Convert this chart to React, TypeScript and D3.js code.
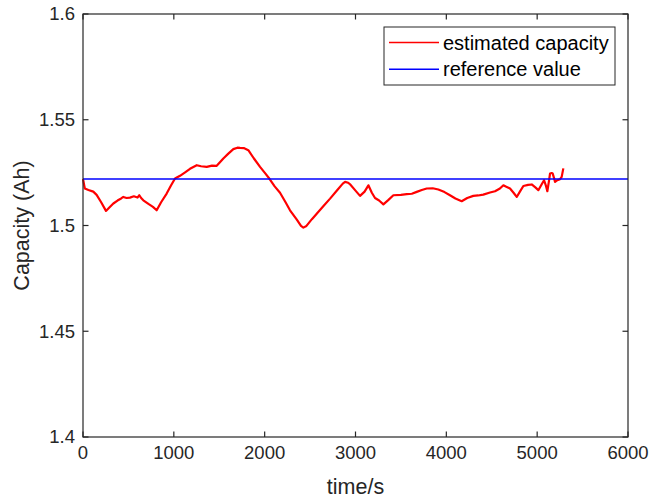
import React from "react";
import { scaleLinear, line } from "d3";

const W = 652;
const H = 500;
const M = { top: 14, right: 24, bottom: 63, left: 83 };

const timeS = [
  0, 20, 60, 113, 150, 200, 253, 290, 334, 380, 420, 444, 480, 517, 560, 600, 620, 640, 664, 720, 770,
  811, 860, 921, 970, 1013, 1068, 1120, 1178, 1252, 1300, 1362, 1420, 1472, 1510, 1545, 1600, 1655,
  1700, 1729, 1770, 1820, 1880, 1949, 2000, 2051, 2110, 2169, 2230, 2279, 2350, 2400, 2426, 2460,
  2520, 2573, 2650, 2720, 2800, 2860, 2885, 2920, 2940, 3000, 3050, 3100, 3142, 3180, 3215, 3260,
  3307, 3360, 3417, 3500, 3564, 3620, 3674, 3730, 3784, 3850, 3912, 3980, 4040, 4100, 4169, 4230,
  4297, 4350, 4407, 4481, 4536, 4590, 4628, 4660, 4701, 4740, 4775, 4810, 4848, 4900, 4940, 4980,
  5013, 5050, 5076, 5095, 5112, 5128, 5142, 5160, 5171, 5185, 5197, 5222, 5252, 5270, 5288,
];

const estimatedCapacity = [
  1.522, 1.5175, 1.5168, 1.516, 1.5145, 1.511, 1.5069, 1.5085, 1.5104, 1.5118, 1.5128, 1.5135, 1.513,
  1.5132, 1.5138, 1.5132, 1.5143, 1.513, 1.5119, 1.5102, 1.5088, 1.5072, 1.511, 1.5151, 1.519, 1.5222,
  1.5235, 1.525, 1.5268, 1.5285, 1.528, 1.5277, 1.5283, 1.5282, 1.53, 1.5317, 1.534, 1.5361, 1.5368,
  1.5367, 1.5366, 1.5356, 1.5318, 1.5277, 1.525, 1.5222, 1.5185, 1.5155, 1.511, 1.5072, 1.503, 1.4998,
  1.499, 1.4998, 1.503, 1.5056, 1.5093, 1.5127, 1.5168, 1.5198, 1.5206, 1.5202, 1.5195, 1.5165, 1.514,
  1.516, 1.519, 1.5155, 1.513, 1.5118, 1.51, 1.512, 1.5143, 1.5145, 1.5148, 1.515, 1.5159, 1.5168,
  1.5175, 1.5176, 1.517, 1.5158, 1.5143, 1.5128, 1.5115, 1.513, 1.514, 1.5142, 1.5146, 1.5156, 1.5162,
  1.5175, 1.519, 1.5183, 1.5175, 1.5155, 1.5135, 1.516, 1.5187, 1.5192, 1.5194, 1.518, 1.5167, 1.5195,
  1.5214, 1.519, 1.5162, 1.5205, 1.5246, 1.5248, 1.5246, 1.5225, 1.5206, 1.5214, 1.5219, 1.523, 1.527,
];

const referenceValue = 1.522;

const xTicks = [0, 1000, 2000, 3000, 4000, 5000, 6000];
const yTicks = [1.4, 1.45, 1.5, 1.55, 1.6];
const yTickLabels = ["1.4", "1.45", "1.5", "1.55", "1.6"];
const legendLabels = ["estimated capacity", "reference value"];
const legendColors = ["#ff0000", "#0000ff"];

const AXIS = "#262626";
const FONT = "'Liberation Sans', Arial, Helvetica, sans-serif";

export default function App() {
  const x = scaleLinear().domain([0, 6000]).range([M.left, W - M.right]);
  const y = scaleLinear().domain([1.4, 1.6]).range([H - M.bottom, M.top]);
  const x0 = x(0);
  const x1 = x(6000);
  const y0 = y(1.4);
  const y1 = y(1.6);
  const tick = 5.5;

  const pts = timeS.map((t, i) => [t, estimatedCapacity[i]] as [number, number]);
  const capLine = line<[number, number]>()
    .x((d) => x(d[0]))
    .y((d) => y(d[1]));

  const lg = { x: 384, y: 27, w: 231, h: 58 };

  return (
    <svg
      width={W}
      height={H}
      style={{ position: "absolute", left: 0, top: 0, background: "#fff" }}
      fontFamily={FONT}
    >
      <rect x={0} y={0} width={W} height={H} fill="#fff" />

      {/* data */}
      <path d={capLine(pts) || ""} fill="none" stroke="#ff0000" strokeWidth={2.2} strokeLinejoin="round" />
      <line x1={x0} x2={x1} y1={y(referenceValue)} y2={y(referenceValue)} stroke="#0000ff" strokeWidth={1.5} />

      {/* box */}
      <rect x={x0} y={y1} width={x1 - x0} height={y0 - y1} fill="none" stroke={AXIS} strokeWidth={1.2} />

      {xTicks.map((t) => (
        <g key={"x" + t}>
          <line x1={x(t)} x2={x(t)} y1={y0} y2={y0 - tick} stroke={AXIS} strokeWidth={1.2} />
          <line x1={x(t)} x2={x(t)} y1={y1} y2={y1 + tick} stroke={AXIS} strokeWidth={1.2} />
          <text x={x(t)} y={y0 + 22} textAnchor="middle" fontSize={18.5} fill={AXIS}>
            {t}
          </text>
        </g>
      ))}

      {yTicks.map((v, i) => (
        <g key={"y" + v}>
          <line x1={x0} x2={x0 + tick} y1={y(v)} y2={y(v)} stroke={AXIS} strokeWidth={1.2} />
          <line x1={x1} x2={x1 - tick} y1={y(v)} y2={y(v)} stroke={AXIS} strokeWidth={1.2} />
          <text x={x0 - 8} y={y(v)} dy="0.35em" textAnchor="end" fontSize={18.5} fill={AXIS}>
            {yTickLabels[i]}
          </text>
        </g>
      ))}

      <text x={(x0 + x1) / 2} y={H - 6} textAnchor="middle" fontSize={21.5} fill={AXIS}>
        time/s
      </text>
      <text
        transform={`translate(${29},${(y0 + y1) / 2}) rotate(-90)`}
        textAnchor="middle"
        fontSize={21.5}
        fill={AXIS}
      >
        Capacity (Ah)
      </text>

      {/* legend */}
      <rect x={lg.x} y={lg.y} width={lg.w} height={lg.h} fill="#fff" stroke={AXIS} strokeWidth={1} />
      {legendLabels.map((lab, i) => {
        const ly = lg.y + 15.5 + i * 26.7;
        return (
          <g key={lab}>
            <line x1={lg.x + 5} x2={lg.x + 55} y1={ly} y2={ly} stroke={legendColors[i]} strokeWidth={1.5} />
            <text x={lg.x + 59} y={ly} dy="0.35em" fontSize={20} fill="#000">
              {lab}
            </text>
          </g>
        );
      })}
    </svg>
  );
}
